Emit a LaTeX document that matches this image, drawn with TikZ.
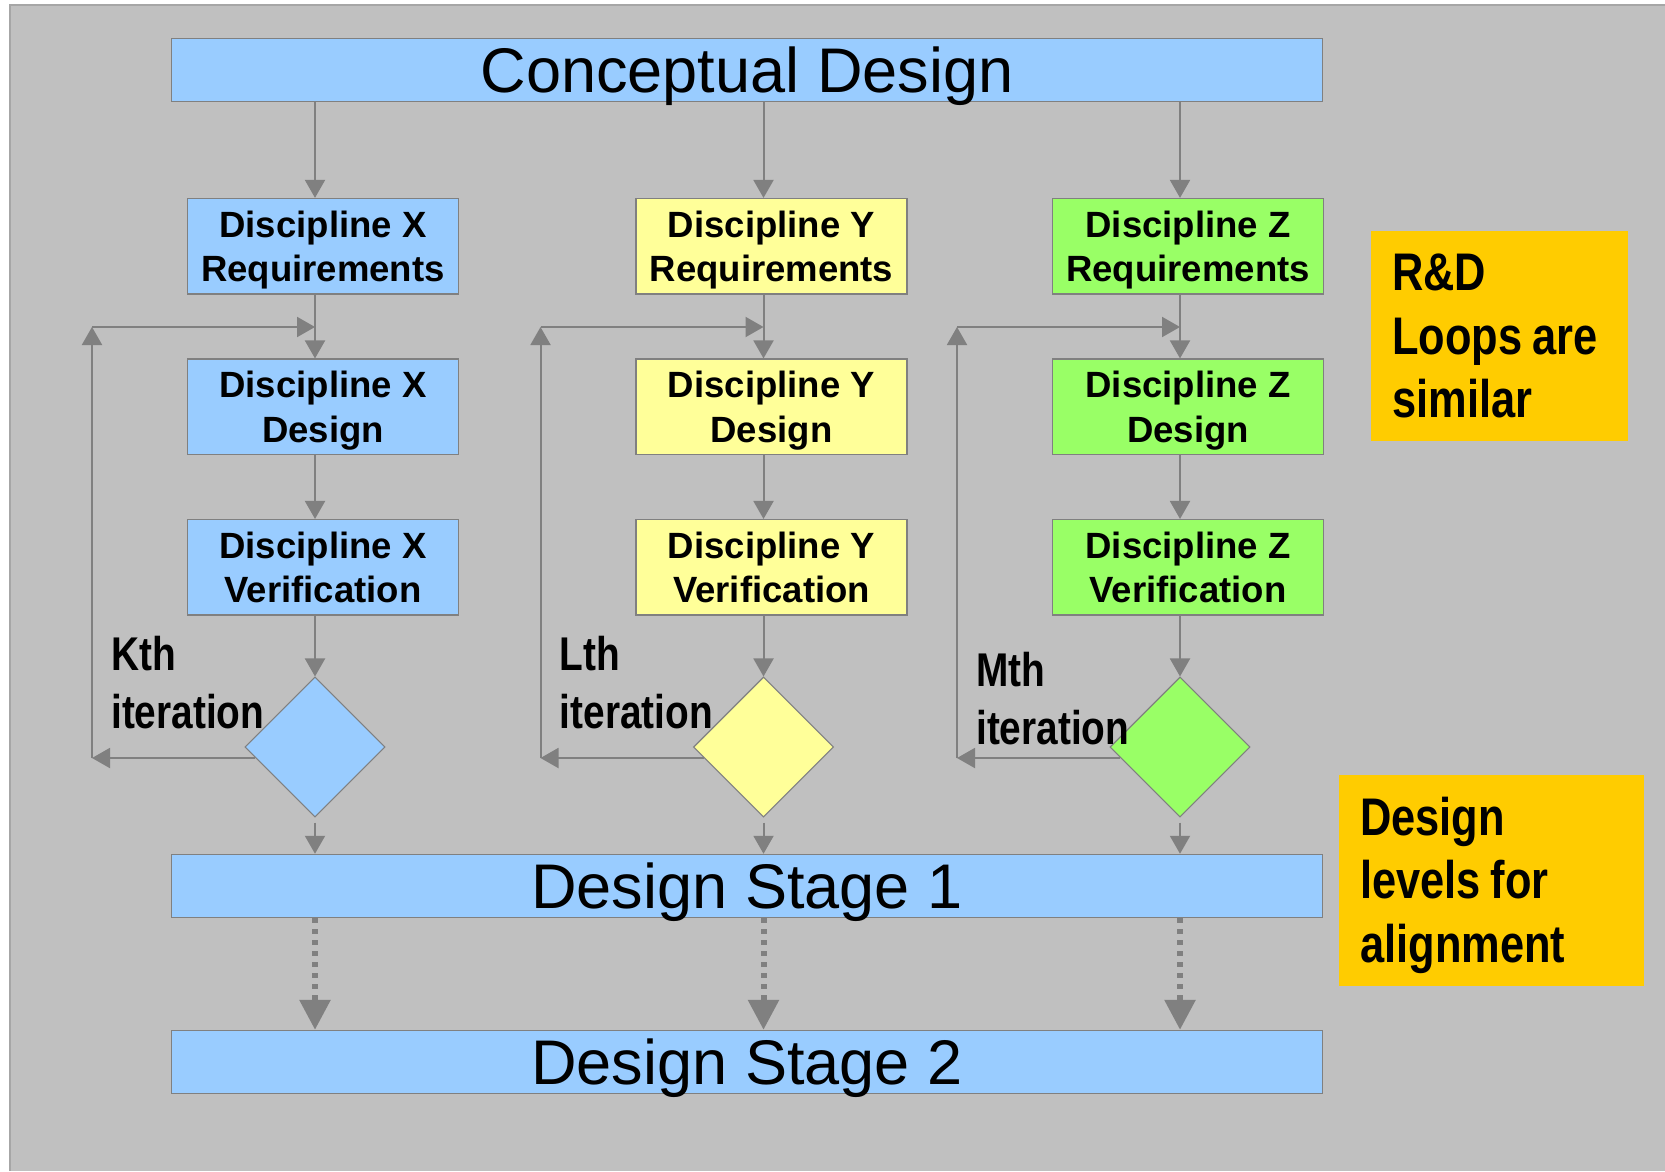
\documentclass[tikz,border=0pt]{standalone}
\usepackage{fontspec}
\setmainfont{Liberation Sans}
\newfontfamily\narrowfont[FakeStretch=0.82,WordSpace=0.82]{Liberation Sans}
\usetikzlibrary{shapes.geometric,arrows.meta,positioning}
\definecolor{slide}{HTML}{C0C0C0}
\definecolor{rim}{HTML}{A6A6A6}
\definecolor{wire}{HTML}{808080}
\definecolor{lightblue}{HTML}{99CCFF}
\definecolor{lightyellow}{HTML}{FFFF99}
\definecolor{lightgreen}{HTML}{99FF66}
\definecolor{amber}{HTML}{FFCC00}
\tikzstyle{bar}=[draw=wire,line width=1.1pt,fill=lightblue,minimum width=863.6pt,
  minimum height=47.25pt,inner sep=0pt,text height=33.75pt,text depth=0pt,
  font=\fontsize{47.3pt}{56pt}\selectfont]
\tikzstyle{disc}=[draw=wire,line width=1.1pt,minimum width=203.25pt,minimum height=71.5pt,
  inner sep=0pt,align=center,text height=53pt,text depth=0pt,
  font=\fontsize{27.4pt}{33.2pt}\selectfont\bfseries]
\tikzstyle{test}=[draw=wire,line width=0.8pt,diamond,aspect=1,minimum size=105pt,inner sep=0pt]
\tikzstyle{flow}=[-{Triangle[width=15pt,length=13.5pt]},wire,line width=1.5pt]
\tikzstyle{jump}=[-{Triangle[width=22.5pt,length=22.5pt]},wire,line width=4.5pt,
  dash pattern=on 3.75pt off 4.5pt]
\tikzstyle{iter}=[inner sep=0pt,anchor=north west,align=left,
  font=\narrowfont\fontsize{35.5pt}{43.2pt}\selectfont\bfseries]
\tikzstyle{note}=[fill=amber,anchor=north west,align=flush left,inner xsep=15.75pt,inner ysep=0pt,
  font=\narrowfont\fontsize{39.7pt}{47.6pt}\selectfont\bfseries]

\begin{document}
\begin{tikzpicture}[x=0.75pt,y=-0.75pt,on grid,node distance=120.4pt]
  \useasboundingbox (0,0) rectangle (1665,1171);
  \fill[slide] (10,5) rectangle (1665,1171);
  \draw[rim,line width=1.2pt] (10,1171) -- (10,5) -- (1665,5);

  \node[bar] (concept) at (747,70)   {Conceptual Design};
  \node[bar] (stage1)  at (747,886)  {Design Stage 1};
  \node[bar] (stage2)  at (747,1062) {Design Stage 2};

  \foreach \dsc/\col/\xx/\kk/\dy in {X/lightblue/315/K/0, Y/lightyellow/763.5/L/0, Z/lightgreen/1180/M/16}{
    \node[disc,fill=\col] (req\dsc) at ({\xx+8},246.3) {Discipline \dsc\\Requirements};
    \node[disc,fill=\col,below=of req\dsc] (des\dsc) {Discipline \dsc\\Design};
    \node[disc,fill=\col,below=of des\dsc] (ver\dsc) {Discipline \dsc\\Verification};
    \node[test,fill=\col] (dec\dsc) at (\xx,747) {};
    \coordinate (lo\dsc) at ({\xx-223},758);
    \coordinate (hi\dsc) at ({\xx-223},327);

    \draw[flow] (concept.south -| dec\dsc) -- (req\dsc.north -| dec\dsc);
    \draw[flow] (req\dsc.south -| dec\dsc) -- (des\dsc.north -| dec\dsc);
    \draw[flow] (des\dsc.south -| dec\dsc) -- (ver\dsc.north -| dec\dsc);
    \draw[flow] (ver\dsc.south -| dec\dsc) -- (dec\dsc.north);
    \draw[flow] ([yshift=-3.75pt]dec\dsc.south) -- (stage1.north -| dec\dsc);
    \draw[jump] (stage1.south -| dec\dsc) -- (stage2.north -| dec\dsc);

    % loop back
    \draw[flow] ([xshift=8.25pt,yshift=-8.25pt]dec\dsc.west) -- (lo\dsc);
    \draw[flow] (lo\dsc) -- (hi\dsc);
    \draw[flow] (hi\dsc) -- (hi\dsc -| dec\dsc);

    \node[iter] (lbl\dsc) at ({\xx-204},{636+\dy}) {\kk th\\iteration};
  }

  \node[note,text width=161.25pt,minimum height=157.9pt] (loops) at (1371,230.6)
    {R\&D\\Loops are\\similar};
  \node[note,text width=197.25pt,minimum height=158.6pt] (levels) at (1339,774.5)
    {\rule{0pt}{36pt}Design\\levels for\\alignment};
\end{tikzpicture}
\end{document}
